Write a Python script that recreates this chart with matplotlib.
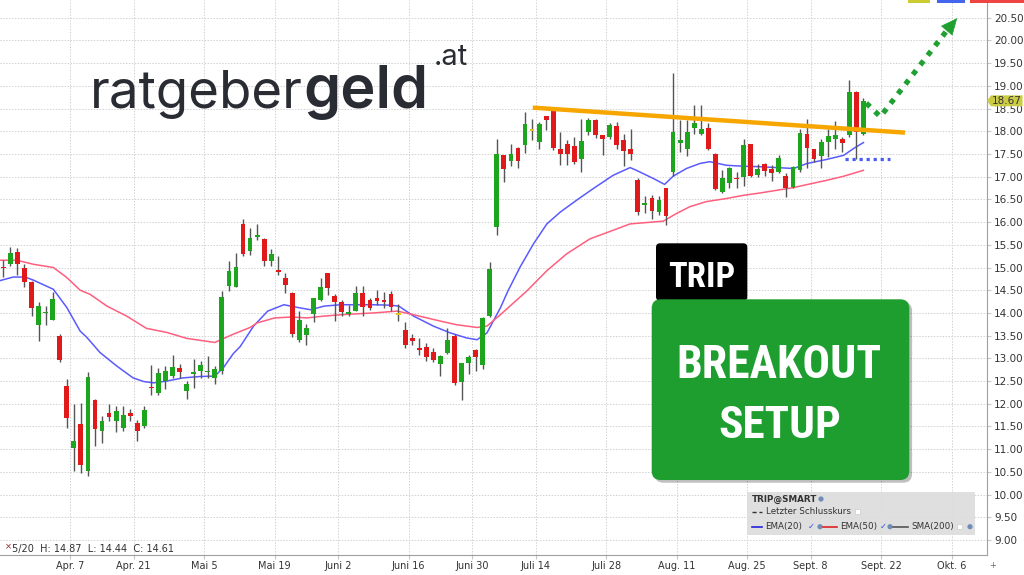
import numpy as np
import matplotlib.pyplot as plt
from matplotlib import font_manager
from matplotlib.patches import FancyBboxPatch, Rectangle, Polygon, Circle

# daily candles, first one = Mar 24 (index 0), last one = Sep 17
opens = [15.02, 15.07, 15.34, 15.00, 14.67, 13.73, 13.99, 13.85, 13.49, 12.39,
         11.03, 11.56, 10.53, 12.09, 11.40, 11.79, 11.62, 11.46, 11.79, 11.57,
         11.51, 12.38, 12.24, 12.50, 12.61, 12.79, 12.28, 12.65, 12.72, 12.69,
         12.57, 12.72, 14.60, 14.56, 15.96, 15.36, 15.68, 15.63, 15.14, 14.94,
         14.77, 14.43, 13.41, 13.52, 13.98, 14.29, 14.87, 14.38, 14.24, 13.98,
         14.05, 14.43, 14.29, 14.32, 14.28, 14.42, 13.96, 13.62, 13.45, 13.22,
         13.24, 13.14, 12.88, 13.12, 13.49, 12.49, 12.90, 13.18, 12.86, 13.93,
         15.89, 17.47, 17.35, 17.64, 17.69, 18.00, 17.76, 18.33, 18.45, 17.62,
         17.71, 17.67, 17.38, 17.99, 18.24, 17.91, 17.88, 18.11, 17.80, 17.60,
         16.93, 16.38, 16.54, 16.22, 16.74, 17.11, 17.75, 17.62, 18.08, 17.95,
         18.08, 17.51, 16.67, 16.86, 16.98, 17.00, 17.72, 17.03, 17.29, 17.16,
         17.11, 17.01, 16.78, 17.14, 17.95, 17.60, 17.45, 17.77, 17.84, 17.84,
         17.92, 18.87, 17.95]
highs = [15.16, 15.46, 15.43, 15.07, 14.71, 14.24, 14.15, 14.45, 13.54, 12.55,
         12.00, 12.02, 12.71, 12.10, 11.73, 11.99, 11.96, 11.95, 11.88, 11.65,
         11.96, 12.85, 12.78, 12.83, 13.07, 12.87, 12.50, 12.99, 12.94, 13.05,
         12.83, 14.49, 15.15, 15.31, 16.06, 15.87, 15.96, 15.66, 15.40, 15.25,
         14.87, 14.46, 14.04, 13.76, 14.33, 14.76, 14.88, 14.42, 14.29, 14.18,
         14.59, 14.59, 14.33, 14.51, 14.46, 14.48, 14.20, 13.80, 13.54, 13.45,
         13.34, 13.23, 13.08, 13.67, 13.54, 12.90, 13.07, 13.21, 13.90, 15.12,
         17.82, 17.48, 17.73, 17.65, 18.43, 18.28, 18.21, 18.34, 18.46, 17.99,
         17.80, 17.87, 18.26, 18.30, 18.28, 17.92, 18.19, 18.21, 17.95, 18.04,
         16.96, 16.57, 16.59, 16.57, 16.75, 19.28, 18.25, 18.25, 18.58, 18.58,
         18.19, 17.52, 17.14, 17.22, 17.11, 17.82, 17.73, 17.29, 17.31, 17.25,
         17.47, 17.09, 17.23, 18.06, 18.26, 17.62, 17.84, 18.04, 18.23, 17.88,
         19.13, 18.88, 18.73]
lows = [14.78, 15.04, 14.84, 14.56, 13.93, 13.38, 13.74, 13.84, 12.93, 11.47,
        10.51, 10.48, 10.40, 11.07, 11.13, 11.62, 11.38, 11.40, 11.62, 11.19,
        11.47, 12.19, 12.20, 12.32, 12.57, 12.57, 12.10, 12.35, 12.57, 12.57,
        12.43, 12.65, 14.49, 14.56, 15.25, 15.27, 15.60, 15.03, 15.03, 14.83,
        14.44, 13.46, 13.37, 13.30, 13.79, 14.27, 14.40, 13.83, 13.93, 13.93,
        14.04, 13.93, 14.07, 14.18, 14.11, 14.04, 13.82, 13.23, 13.29, 13.08,
        12.95, 12.92, 12.62, 13.10, 12.42, 12.08, 12.65, 12.73, 12.76, 13.92,
        15.71, 16.88, 17.23, 17.19, 17.52, 17.80, 17.60, 18.02, 17.58, 17.25,
        17.25, 17.27, 17.10, 17.91, 17.86, 17.47, 17.84, 17.62, 17.23, 17.36,
        16.15, 16.20, 16.07, 16.15, 15.93, 17.01, 17.55, 17.45, 17.94, 17.92,
        17.59, 16.70, 16.64, 16.76, 16.74, 16.79, 17.00, 17.00, 17.01, 16.91,
        17.07, 16.56, 16.76, 17.11, 17.18, 17.33, 17.18, 17.44, 17.62, 17.55,
        17.88, 17.40, 17.92]
closes = [14.98, 15.32, 15.07, 14.67, 14.10, 14.15, 14.03, 14.30, 12.97, 11.69,
          11.19, 10.66, 12.60, 11.44, 11.62, 11.71, 11.85, 11.76, 11.72, 11.41,
          11.87, 12.34, 12.68, 12.72, 12.81, 12.71, 12.44, 12.68, 12.85, 12.72,
          12.76, 14.35, 14.93, 15.01, 15.29, 15.64, 15.71, 15.14, 15.29, 14.90,
          14.61, 13.54, 13.85, 13.67, 14.32, 14.57, 14.54, 14.24, 14.01, 14.01,
          14.43, 14.13, 14.10, 14.26, 14.25, 14.13, 13.96, 13.29, 13.39, 13.19,
          13.04, 12.96, 13.05, 13.41, 12.46, 12.89, 13.04, 13.02, 13.89, 14.96,
          17.49, 17.16, 17.49, 17.34, 18.15, 18.00, 18.15, 18.24, 17.64, 17.51,
          17.51, 17.32, 17.79, 18.24, 17.91, 17.82, 18.13, 17.69, 17.56, 17.51,
          16.22, 16.40, 16.24, 16.49, 16.13, 17.99, 17.81, 17.99, 18.19, 18.04,
          17.62, 16.72, 16.98, 17.18, 16.94, 17.69, 17.01, 17.16, 17.13, 17.07,
          17.42, 16.74, 17.22, 17.97, 17.64, 17.40, 17.77, 17.89, 17.92, 17.75,
          18.87, 17.99, 18.67]

# x labels and the candle index of that day
tick_labels = ['Apr. 7', 'Apr. 21', 'Mai 5', 'Mai 19', 'Juni 2', 'Juni 16', 'Juni 30',
               'Juli 14', 'Juli 28', 'Aug. 11', 'Aug. 25', 'Sept. 8', 'Sept. 22', 'Okt. 6']
tick_idx = [10, 19, 29, 39, 48, 58, 67, 76, 86, 96, 106, 115, 125, 135]

# moving averages (candle index, price)
ema20_x = [-0.5, 1.4, 3.1, 4.3, 7.1, 9.0, 10.9, 11.8, 13.7, 16.1, 18.4, 19.9, 21.3, 23.2, 25.5, 27.9,
           30.0, 31.2, 32.6, 33.6, 35.5, 37.5, 39.8, 42.1, 43.6, 45.5, 47.8, 50.2, 52.5, 54.9, 56.1,
           58.2, 61.0, 63.4, 65.7, 67.2, 68.6, 70.5, 71.6, 73.3, 75.2, 77.1, 79.0, 81.3, 83.7, 86.5,
           88.9, 89.8, 92.2, 93.8, 95.0, 96.9, 98.8, 100.2, 102.6, 105.0, 107.3, 109.7, 112.1, 114.0,
           116.8, 119.2, 120.6, 122.0]
ema20_y = [14.71, 14.79, 14.79, 14.72, 14.52, 14.12, 13.60, 13.47, 13.13, 12.83, 12.57, 12.49, 12.46,
           12.50, 12.57, 12.60, 12.61, 12.79, 13.10, 13.26, 13.71, 14.04, 14.18, 14.11, 14.07, 14.15,
           14.18, 14.18, 14.18, 14.17, 14.15, 13.93, 13.71, 13.56, 13.45, 13.41, 13.56, 14.11, 14.49,
           15.01, 15.52, 15.96, 16.22, 16.48, 16.74, 17.03, 17.20, 17.14, 16.96, 16.83, 17.01, 17.18,
           17.29, 17.33, 17.25, 17.23, 17.22, 17.20, 17.18, 17.29, 17.38, 17.47, 17.62, 17.75]
ema50_x = [-0.5, 1.9, 4.3, 7.1, 9.0, 10.9, 12.3, 14.7, 17.5, 20.3, 23.2, 26.0, 30.0, 32.6, 35.0, 36.0,
           38.5, 40.9, 43.1, 45.5, 47.8, 52.5, 55.9, 58.2, 62.0, 64.3, 67.2, 68.6, 70.5, 74.3, 77.1,
           79.9, 83.2, 86.5, 88.9, 93.6, 95.5, 97.4, 99.7, 102.6, 105.0, 107.3, 109.7, 112.1, 114.4,
           116.8, 119.2, 122.0]
ema50_y = [15.16, 15.16, 15.07, 15.00, 14.78, 14.50, 14.41, 14.15, 13.93, 13.66, 13.57, 13.44, 13.35,
           13.53, 13.68, 13.78, 13.89, 13.91, 13.89, 13.93, 13.96, 14.00, 14.04, 13.96, 13.82, 13.74,
           13.68, 13.71, 13.96, 14.49, 14.93, 15.30, 15.63, 15.82, 15.96, 16.02, 16.19, 16.34, 16.45,
           16.52, 16.59, 16.64, 16.70, 16.76, 16.84, 16.92, 17.01, 17.14]

# drawn-in annotations (candle index, price)
trend_x, trend_y = [75.1, 127.9], [18.52, 17.97]
support_x, support_y = [119.4, 125.8], [17.38, 17.38]
arrow_x, arrow_y = [122.4, 124.4, 133.9], [18.62, 18.32, 20.23]
arrow_tip = (135.3, 20.49)

GREEN, RED, DOJI = '#1ea51e', '#e01a1a', '#e6c21e'
names = {f.name for f in font_manager.fontManager.ttflist}
narrow = next((n for n in ['Roboto Condensed', 'Liberation Sans Narrow', 'Open Sans Condensed']
               if n in names), 'Liberation Sans')

fig = plt.figure(figsize=(10.24, 5.75), dpi=100)
ax = fig.add_axes([0, 20 / 575, 987 / 1024, 555 / 575])

o, h, l, c = map(np.array, (opens, highs, lows, closes))
idx = np.arange(len(o))
cols = np.where(c > o, GREEN, np.where(c < o, RED, DOJI))
ax.vlines(idx, l, h, color='#555555', lw=1, zorder=3)
ax.bar(idx, np.maximum(np.abs(c - o), 0.04), bottom=np.minimum(o, c), width=0.68,
       color=cols, lw=0, zorder=4)

ax.plot(ema20_x, ema20_y, color='#5a5aff', lw=1.1, zorder=2)
ax.plot(ema50_x, ema50_y, color='#ff5f7e', lw=1.1, zorder=2)

ax.plot(trend_x, trend_y, color='#f7a600', lw=3.2, solid_capstyle='butt', zorder=5)
ax.plot(support_x, support_y, color='#4a5cf0', lw=2.3, ls=(0, (1, 1.2)), zorder=5)
ax.plot(arrow_x, arrow_y, color='#21a032', lw=3.8, ls=(0, (1, 1.3)), zorder=5)
ax.annotate('', xy=arrow_tip, xytext=(arrow_x[-1], arrow_y[-1]),
            arrowprops=dict(arrowstyle='-|>,head_length=1.1,head_width=0.5', fc='#21a032',
                            ec='#21a032', lw=0.5, shrinkA=0, shrinkB=0), zorder=5)

ax.set_xlim(-0.47, 139.53)
ax.set_ylim(8.67, 20.89)
ax.set_yticks(np.arange(9, 20.51, 0.5))
ax.yaxis.tick_right()
ax.yaxis.set_major_formatter(lambda v, p: f'{v:.2f}')
ax.set_xticks([i - 0.5 for i in tick_idx], tick_labels)
ax.grid(True, color='#d2d2d2', ls=(0, (1.5, 1.5)), lw=0.7, zorder=0)
for s in ['left', 'top']:
    ax.spines[s].set_visible(False)
for s in ['bottom', 'right']:
    ax.spines[s].set_color('#a0a0a0')
ax.tick_params(axis='x', labelsize=7, labelcolor='#333333', color='#c8c8c8', length=3, pad=1.5)
ax.tick_params(axis='y', labelsize=7.5, labelcolor='#333333', color='#c8c8c8', length=3, pad=2)

# last price marker on the right axis
last = closes[-1]
yt = ax.get_yaxis_transform()
ax.add_patch(Polygon([(1.0, last), (1.004, last + 0.12), (1.036, last + 0.12), (1.036, last - 0.12),
                      (1.004, last - 0.12)], closed=True, transform=yt, fc='#cbcb45', ec='none',
                     clip_on=False, zorder=10))
ax.text(1.0205, last, f'{last:.2f}', transform=yt, ha='center', va='center', fontsize=7.5,
        color='#333333', clip_on=False, zorder=11)

# overlay in pixel coordinates for logo, boxes and legend
ov = fig.add_axes([0, 0, 1, 1])
ov.set_xlim(0, 1024)
ov.set_ylim(575, 0)
ov.axis('off')
ov.patch.set_visible(False)

fig.canvas.draw()
rend = fig.canvas.get_renderer()


def fit(txt, x, y, width, size, **kw):
    t = ov.text(x, y, txt, fontsize=size, **kw)
    w = t.get_window_extent(rend).width
    t.set_fontsize(size * width / w)
    return t


logo = '#2a2c33'
t1 = fit('ratgeber', 90, 108, 213, 40, family='Inter', color=logo, va='baseline')
x2 = t1.get_window_extent(rend).x1
t2 = fit('geld', x2, 108, 125, 40, family='Inter', fontweight='semibold', color=logo, va='baseline')
x3 = t2.get_window_extent(rend).x1
ov.text(x3 + 6, 65, '.at', family='Inter', fontsize=21, color=logo, va='baseline')

# TRIP / BREAKOUT SETUP boxes
ov.add_patch(FancyBboxPatch((654.5, 302), 257.6, 180.7, boxstyle='round,pad=0,rounding_size=9',
                            fc='black', ec='none', alpha=0.25))
ov.add_patch(FancyBboxPatch((656, 243.3), 91.3, 57.4, boxstyle='round,pad=0,rounding_size=4',
                            fc='black', ec='none'))
ov.add_patch(FancyBboxPatch((651.7, 299.3), 257.6, 180.7, boxstyle='round,pad=0,rounding_size=9',
                            fc='#1f9e30', ec='none'))
fit('TRIP', 701.5, 287, 67, 26, family=narrow, fontweight='bold', color='white', ha='center',
    va='baseline')
fit('BREAKOUT', 779, 378, 205, 33, family=narrow, fontweight='bold', color='white', ha='center',
    va='baseline')
fit('SETUP', 780, 438, 123, 34, family=narrow, fontweight='bold', color='white', ha='center',
    va='baseline')

# legend panel
ov.add_patch(Rectangle((746.7, 491.5), 228.3, 43, fc='#dcdcdc', ec='none', alpha=0.9))
lk = dict(fontsize=6.3, color='#333333', va='center')
ov.text(752, 499, 'TRIP@SMART', fontweight='bold', **lk)
ov.add_patch(Circle((821, 499), 2.6, fc='#6f8db8', ec='none'))
ov.plot([752, 762], [511.7, 511.7], color='#333333', lw=1, ls=(0, (3, 2)))
ov.text(766, 511.7, 'Letzter Schlusskurs', **lk)
ov.add_patch(Rectangle((855, 509.2), 5, 5, fc='white', ec='#cccccc', lw=0.5))
ov.plot([752, 762], [526.7, 526.7], color='#2222dd', lw=1.2)
ov.text(765, 526.7, 'EMA(20)', **lk)
ov.text(808, 526.7, '✓', fontsize=6, color='#3355ee', va='center')
ov.add_patch(Circle((820, 526.7), 2.6, fc='#6f8db8', ec='none'))
ov.plot([823, 837], [526.7, 526.7], color='#dd2222', lw=1.2)
ov.text(840, 526.7, 'EMA(50)', **lk)
ov.text(880, 526.7, '✓', fontsize=6, color='#3355ee', va='center')
ov.add_patch(Circle((890, 526.7), 2.6, fc='#6f8db8', ec='none'))
ov.plot([893, 908], [526.7, 526.7], color='#555555', lw=1.2)
ov.text(911, 526.7, 'SMA(200)', **lk)
ov.add_patch(Rectangle((957, 524.2), 5, 5, fc='white', ec='#cccccc', lw=0.5))
ov.add_patch(Circle((970, 526.7), 2.6, fc='#6f8db8', ec='none'))

# hover readout and small chrome
ov.text(5, 547, '×', fontsize=6, color='#8b2222', va='center')
ov.text(12, 549, '5/20  H: 14.87  L: 14.44  C: 14.61', fontsize=7, color='#333333', va='center')
ov.text(989, 565, '+', fontsize=6, color='#666666', va='center')
ov.add_patch(Rectangle((908, 0), 22, 2.5, fc='#cccc33', ec='none'))
ov.add_patch(Rectangle((937, 0), 28, 2.5, fc='#4466ee', ec='none'))
ov.add_patch(Rectangle((970, 0), 54, 2.5, fc='#ee4444', ec='none'))

fig.savefig('out.png', dpi=100)
